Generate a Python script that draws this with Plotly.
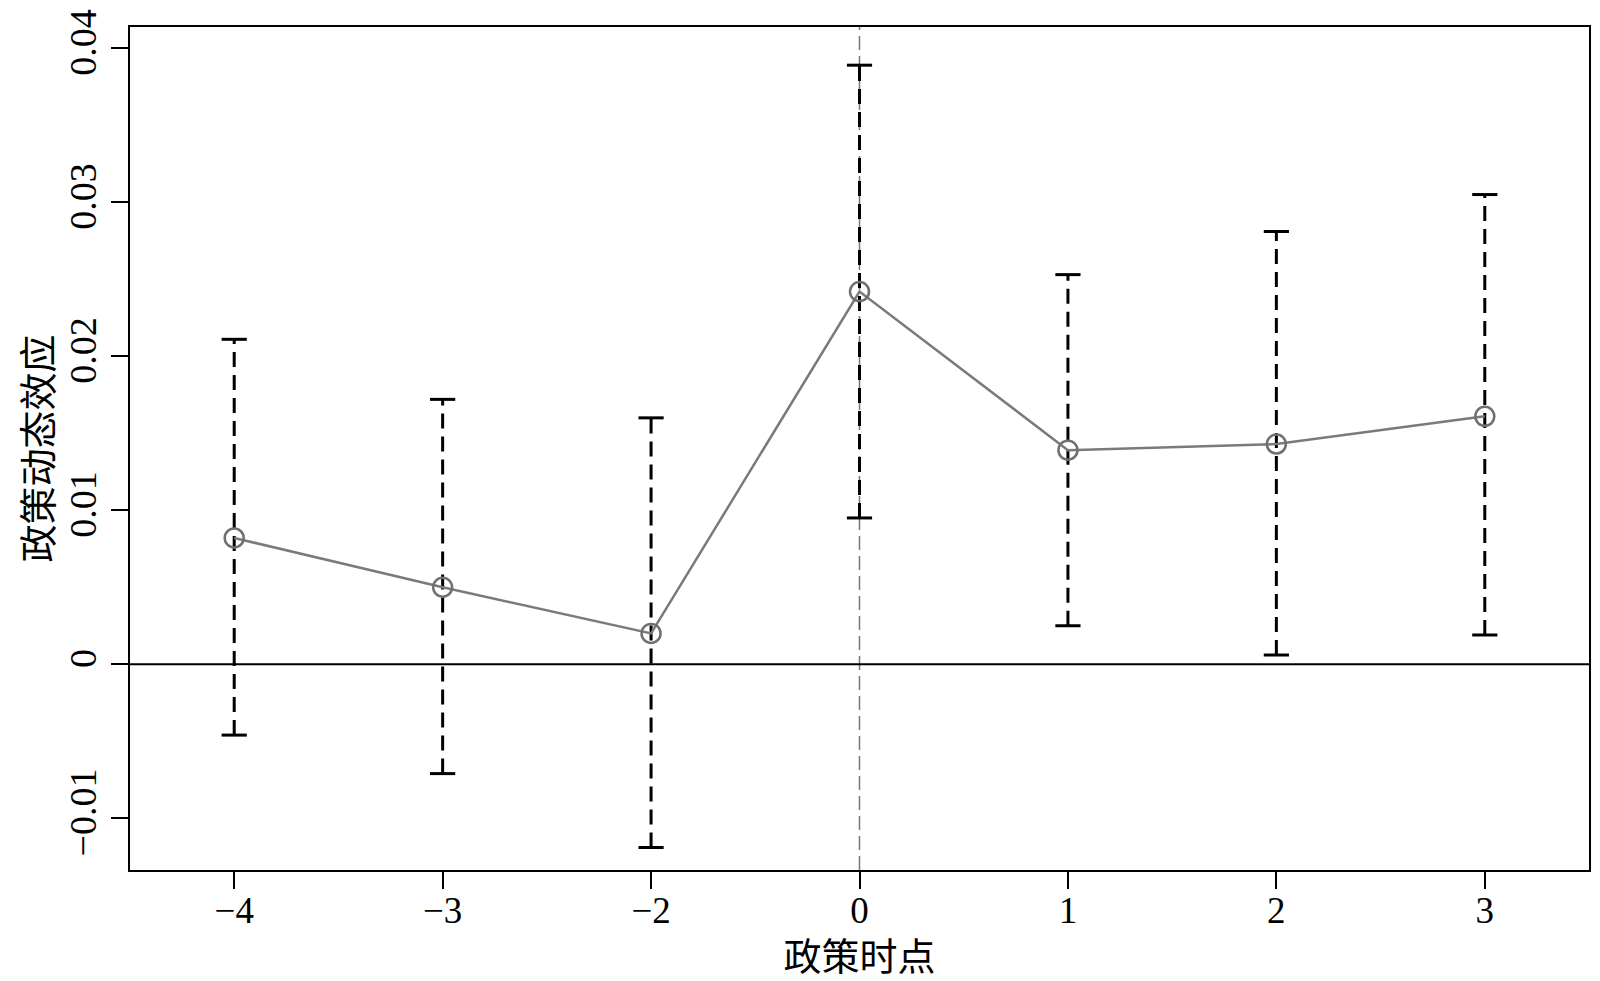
import plotly.graph_objects as go

# event-study estimates
periods = ["−4", "−3", "−2", "0", "1", "2", "3"]
coef = [0.0082, 0.0050, 0.0020, 0.0242, 0.0139, 0.0143, 0.0161]
ci_low = [-0.0046, -0.0071, -0.0119, 0.0095, 0.0025, 0.0006, 0.0019]
ci_high = [0.0211, 0.0172, 0.0160, 0.0389, 0.0253, 0.0281, 0.0305]

y_ticks = [-0.01, 0, 0.01, 0.02, 0.03, 0.04]
y_ticktext = ["−0.01", "0", "0.01", "0.02", "0.03", "0.04"]

num_font = "Liberation Serif"
cjk_font = "Noto Sans CJK SC"

fig = go.Figure()

# dashed confidence intervals
for p, lo, hi in zip(periods, ci_low, ci_high):
    fig.add_trace(go.Scatter(
        x=[p, p], y=[lo, hi], mode="lines",
        line=dict(color="black", width=3, dash="15px,8px"),
        hoverinfo="skip", showlegend=False
    ))

# caps
fig.add_trace(go.Scatter(
    x=periods + periods, y=ci_low + ci_high, mode="markers",
    marker=dict(symbol="line-ew", size=18, line=dict(color="black", width=3)),
    hoverinfo="skip", showlegend=False
))

# point estimates
fig.add_trace(go.Scatter(
    x=periods, y=coef, mode="lines+markers",
    line=dict(color="#7a7a7a", width=2.5),
    marker=dict(symbol="circle-open", size=19, color="#707070", line=dict(width=2.5)),
    showlegend=False
))

event_idx = periods.index("0")
fig.add_shape(type="line", xref="x", yref="paper", x0=event_idx, x1=event_idx, y0=0, y1=1,
              line=dict(color="#777777", width=1.5, dash="14px,6px"), layer="below")
fig.add_shape(type="line", xref="paper", yref="y", x0=0, x1=1, y0=0, y1=0,
              line=dict(color="black", width=2))

# page body adds an 8px offset, so the figure is 8px smaller on each side
fig.update_layout(
    width=1592, height=973,
    margin=dict(l=122, r=11, t=19, b=111),
    plot_bgcolor="white", paper_bgcolor="white",
    showlegend=False
)
fig.update_xaxes(
    type="category", range=[-0.5, 6.5], automargin=False,
    showline=True, linecolor="black", linewidth=2, mirror=True,
    ticks="outside", ticklen=17, tickwidth=2, tickcolor="black",
    ticklabelstandoff=-10,
    showgrid=False, zeroline=False,
    tickfont=dict(family=num_font, size=37, color="black"),
    title=dict(text="政策时点", font=dict(family=cjk_font, size=38, color="black"), standoff=4)
)
fig.update_yaxes(
    range=[-0.01336, 0.04138], automargin=False,
    tickvals=y_ticks, ticktext=y_ticktext, tickangle=-90,
    showline=True, linecolor="black", linewidth=2, mirror=True,
    ticks="outside", ticklen=17, tickwidth=2, tickcolor="black",
    showgrid=False, zeroline=False,
    tickfont=dict(family=num_font, size=38, color="black"),
    title=dict(text="政策动态效应", font=dict(family=cjk_font, size=38, color="black"), standoff=25)
)

fig.write_html("out.html")
